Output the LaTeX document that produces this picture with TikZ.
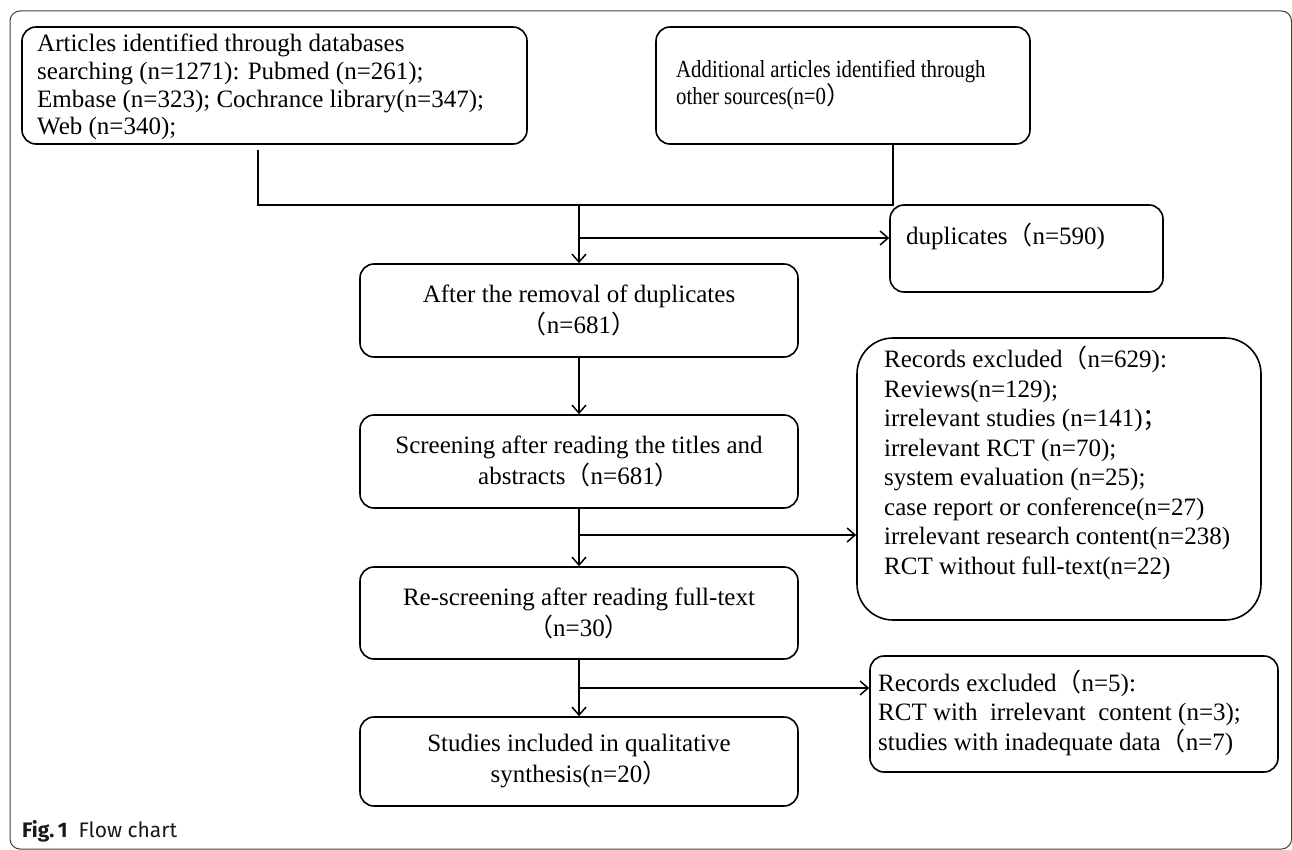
\documentclass[tikz,border=0pt]{standalone}
\usepackage{fontspec}
\setmainfont{Liberation Serif}
\newfontfamily\condf{Liberation Serif}[FakeStretch=0.85]
\newfontfamily\cjkf{Noto Sans CJK SC}
\newfontfamily\capf{Fira Sans}
\newcommand{\lpar}{{\cjkf （}}
\newcommand{\rpar}{{\cjkf ）}}
\newcommand{\fsemi}{{\cjkf ；}}
\usetikzlibrary{arrows.meta,calc}
\begin{document}
\begin{tikzpicture}[x=1pt,y=-1pt,
  box/.style={draw, line width=1.6pt, rounded corners=14pt, inner sep=0pt},
  ctxt/.style={align=center, font=\fontsize{25}{31}\selectfont},
  txt/.style={inner sep=0pt, align=left, anchor=base west},
  conn/.style={line width=1.5pt},
  arr/.style={line width=1.5pt, -{Straight Barb[length=8pt,width=14pt]}},
  frame/.style={draw=black!75, line width=1pt, rounded corners=10pt}]
\useasboundingbox (0,0) rectangle (1292,850);
\draw[frame] (10,11) rectangle (1291.5,849);

% boxes
\node[box, minimum width=505pt, minimum height=117pt] (A) at (274.5,85.5) {};
\node[box, minimum width=374pt, minimum height=117pt] (B) at (843,85.5) {};
\node[box, minimum width=273pt, minimum height=87pt] (D) at (1026.5,248.5) {};
\node[box, ctxt, minimum width=438pt, minimum height=93pt] (C) at (579,310.5)
  {After the removal of duplicates\\ \lpar n=681\rpar};
\node[box, ctxt, minimum width=438pt, minimum height=93pt] (E) at (579,461.5)
  {Screening after reading the titles and\\ abstracts\lpar n=681\rpar};
\node[box, ctxt, minimum width=438pt, minimum height=92pt] (F) at (579,613)
  {Re-screening after reading full-text\\ \lpar n=30\rpar};
\node[box, ctxt, minimum width=438pt, minimum height=89pt] (G) at (579,761.5)
  {Studies included in qualitative\\ synthesis(n=20\rpar};
\node[box, rounded corners=36pt, minimum width=404pt, minimum height=282pt] (I) at (1059,479) {};
\node[box, minimum width=408pt, minimum height=116pt] (H) at (1074,714) {};

% texts (anchor = baseline of the last line)
\node[txt, font=\fontsize{25}{27.7}\selectfont] (tA) at (37,135)
  {Articles identified through databases\\ searching (n=1271): Pubmed (n=261);\\ Embase (n=323); Cochrance library(n=347);\\ Web (n=340);};
\node[txt, font=\condf\fontsize{24.5}{27.5}\selectfont] (tB) at (676,105)
  {Additional articles identified through\\ other sources(n=0\rpar};
\node[txt, font=\fontsize{25}{30}\selectfont] (tD) at (906,245) {duplicates\lpar n=590)};
\node[txt, font=\fontsize{25}{29.5}\selectfont] (tI) at (884,574)
  {Records excluded\lpar n=629):\\ Reviews(n=129);\\ irrelevant studies (n=141)\fsemi\\ irrelevant RCT (n=70);\\ system evaluation (n=25);\\ case report or conference(n=27)\\ irrelevant research content(n=238)\\ RCT without full-text(n=22)};
\node[txt, font=\fontsize{25}{29.5}\selectfont] (tH) at (878,750)
  {Records excluded\lpar n=5):\\ RCT with\ \ irrelevant\ \ content (n=3);\\ studies with inadequate data\lpar n=7)};

% connectors
\coordinate (jA) at (258,205);
\coordinate (jB) at (893,205);
\coordinate (j) at (579,205);
\coordinate (bD) at (579,238);
\coordinate (bI) at (579,535);
\coordinate (bH) at (579,688);
\draw[conn] ($(A.south -| jA)+(0,5)$) -- (jA) -- (jB) -- (B.south -| jB);
\draw[arr] (j) -- (C.north);
\draw[arr] (bD) -- (bD -| D.west);
\draw[arr] (C.south) -- (E.north);
\draw[arr] (E.south) -- (F.north);
\draw[arr] (bI) -- (bI -| I.west);
\draw[arr] (F.south) -- (G.north);
\draw[arr] (bH) -- (bH -| H.west);

% caption
\node[inner sep=0pt, anchor=base west, text=black!90] (cap) at (22,837)
  {\capf\fontsize{21}{25}\selectfont\bfseries Fig.\,1\hspace{11pt}\mdseries Flow chart};
\end{tikzpicture}
\end{document}
